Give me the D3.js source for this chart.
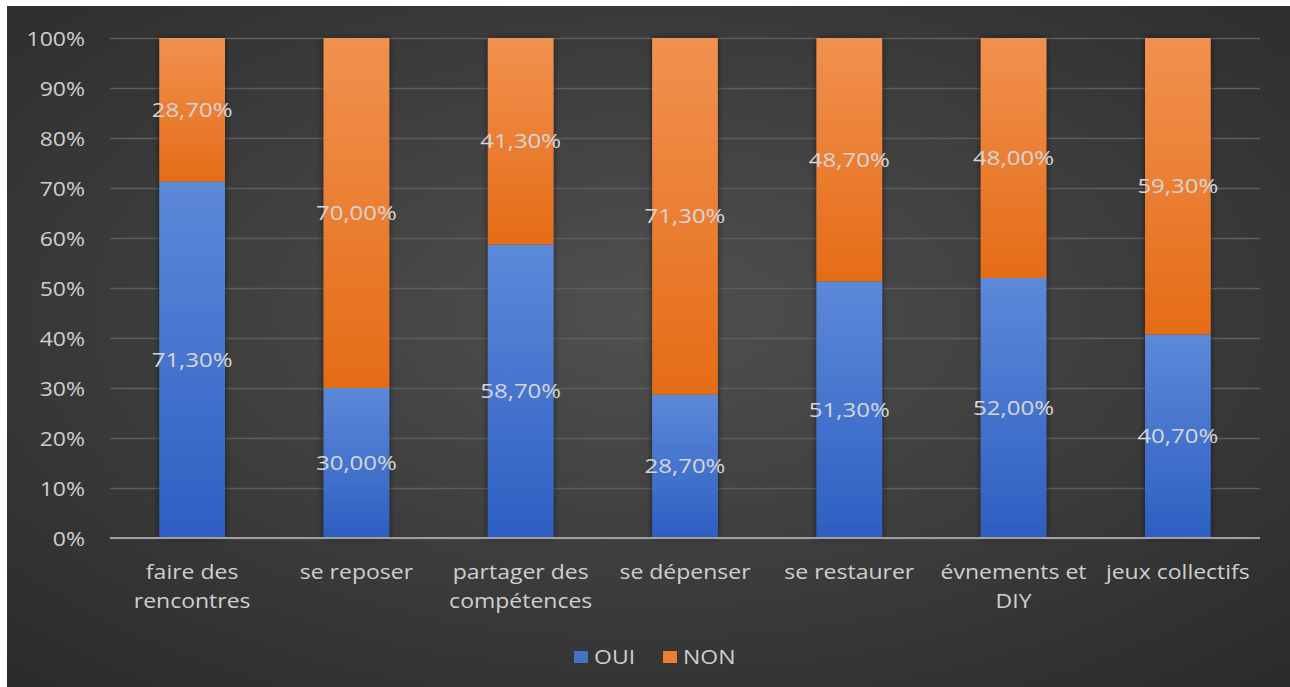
<!DOCTYPE html>
<html>
<head>
<meta charset="utf-8">
<script src="https://cdn.jsdelivr.net/npm/d3@7"></script>
<style>
  html, body { margin: 0; padding: 0; background: #fff; }
  svg { display: block; }
  svg text { font-family: "Open Sans", sans-serif; }
</style>
</head>
<body>
<svg id="chart" width="1290" height="687"></svg>
<script>
var categories = ['faire des rencontres', 'se reposer', 'partager des compétences', 'se dépenser', 'se restaurer', 'évnements et DIY', 'jeux collectifs'];
var oui = [71.3, 30.0, 58.7, 28.7, 51.3, 52.0, 40.7];
var non = [28.7, 70.0, 41.3, 71.3, 48.7, 48.0, 59.3];
var seriesNames = ['OUI', 'NON'];
var yTicks = [0, 10, 20, 30, 40, 50, 60, 70, 80, 90, 100];

function draw_chart(svg_id) {
    var width = 1290, height = 687;
    var plotLeft = 110, plotRight = 1260, plotTop = 38, plotBottom = 538;
    var stretch = 1.15;   // the original picture is a bit wider than tall

    var svg = d3.select('#' + svg_id);
    var defs = svg.append('defs');

    var bg = defs.append('radialGradient').attr('id', 'bg')
        .attr('cx', '50%').attr('cy', '45%').attr('r', '75%');
    bg.append('stop').attr('offset', '0%').attr('stop-color', '#505050');
    bg.append('stop').attr('offset', '100%').attr('stop-color', '#2a2a2a');

    var fills = {
        OUI: ['#5d89d9', '#2d5fc2'],
        NON: ['#f1914f', '#e56c17']
    };
    seriesNames.forEach(function (s) {
        var g = defs.append('linearGradient').attr('id', 'grad' + s)
            .attr('x1', 0).attr('y1', 0).attr('x2', 0).attr('y2', 1);
        g.append('stop').attr('offset', '0%').attr('stop-color', fills[s][0]);
        g.append('stop').attr('offset', '100%').attr('stop-color', fills[s][1]);
    });

    var shadow = defs.append('filter').attr('id', 'shadow')
        .attr('x', '-20%').attr('y', '-5%').attr('width', '140%').attr('height', '110%');
    shadow.append('feDropShadow').attr('dx', 0).attr('dy', 0).attr('stdDeviation', 3)
        .attr('flood-color', '#000').attr('flood-opacity', 0.55);

    // white margin of the screenshot then dark background
    svg.append('rect').attr('width', width).attr('height', height).attr('fill', '#fff');
    svg.append('rect').attr('x', 7).attr('y', 6).attr('width', width - 7).attr('height', height - 6)
        .attr('fill', 'url(#bg)');

    var x = d3.scaleBand().domain(categories).range([plotLeft, plotRight]).paddingInner(0.6).paddingOuter(0.3);
    var y = d3.scaleLinear().domain([0, 100]).range([plotBottom, plotTop]);
    var color = d3.scaleOrdinal().domain(seriesNames).range(['#4472c4', '#ed7d31']);

    // gridlines + y labels
    var yAxis = svg.append('g')
        .attr('transform', 'translate(' + plotLeft + ',0)')
        .call(d3.axisLeft(y).tickValues(yTicks).tickFormat(function (d) { return d + '%'; })
            .tickSize(-(plotRight - plotLeft)))
        .attr('font-family', null).attr('font-size', 20);
    yAxis.select('.domain').remove();
    yAxis.selectAll('line').attr('stroke', '#5e5e5e').attr('stroke-width', 1.5);
    yAxis.selectAll('text')
        .attr('fill', '#cfcfcf')
        .attr('x', 0).attr('dy', '0.35em')
        .attr('transform', 'translate(-25,0) scale(' + stretch + ',1)');

    // stacked bars
    var rows = categories.map(function (c, i) { return {cat: c, OUI: oui[i], NON: non[i]}; });
    var stacked = d3.stack().keys(seriesNames)(rows);

    var bars = svg.append('g').attr('filter', 'url(#shadow)');
    bars.selectAll('g').data(stacked).enter().append('g')
        .attr('fill', function (d) { return 'url(#grad' + d.key + ')'; })
        .selectAll('rect').data(function (d) { return d; }).enter().append('rect')
        .attr('x', function (d) { return x(d.data.cat); })
        .attr('width', x.bandwidth())
        .attr('y', function (d) { return y(d[1]); })
        .attr('height', function (d) { return y(d[0]) - y(d[1]); });

    // baseline
    svg.append('line')
        .attr('x1', plotLeft).attr('x2', plotRight).attr('y1', y(0)).attr('y2', y(0))
        .attr('stroke', '#a0a0a0').attr('stroke-width', 2);

    // data labels
    var fmt = function (v) { return v.toFixed(2).replace('.', ',') + '%'; };
    stacked.forEach(function (s) {
        svg.append('g').selectAll('text').data(s).enter().append('text')
            .attr('transform', function (d) {
                return 'translate(' + (x(d.data.cat) + x.bandwidth() / 2) + ',' + y((d[0] + d[1]) / 2) + ') scale(1.2,1)';
            })
            .attr('text-anchor', 'middle').attr('dy', '0.35em')
            .attr('font-size', 20).attr('fill', '#d6d6d6')
            .text(function (d) { return fmt(d.data[s.key]); });
    });

    // category axis
    var xAxis = svg.append('g')
        .attr('transform', 'translate(0,' + plotBottom + ')')
        .call(d3.axisBottom(x).tickSize(0).tickPadding(0))
        .attr('font-family', null).attr('font-size', 20);
    xAxis.select('.domain').remove();
    xAxis.selectAll('text')
        .attr('fill', '#cfcfcf').attr('y', 0).attr('dy', 0)
        .attr('transform', 'translate(0,41) scale(' + stretch + ',1)')
        .each(function () { wrap(d3.select(this), x.step() / stretch); });

    function wrap(text, maxW) {
        var words = text.text().split(' ');
        var lines = [], line = [];
        text.text('');
        var probe = text.append('tspan');
        words.forEach(function (w) {
            line.push(w);
            probe.text(line.join(' '));
            if (probe.node().getComputedTextLength() > maxW - 6 && line.length > 1) {
                line.pop();
                lines.push(line.join(' '));
                line = [w];
            }
        });
        lines.push(line.join(' '));
        probe.remove();
        lines.forEach(function (l, i) {
            text.append('tspan').attr('x', 0).attr('y', i * 29).text(l);
        });
    }

    // legend
    var legend = svg.append('g').attr('transform', 'translate(574,651)');
    var item = legend.selectAll('g').data(seriesNames).enter().append('g')
        .attr('transform', function (d, i) { return 'translate(' + (i * 89) + ',0)'; });
    item.append('rect').attr('width', 14).attr('height', 12)
        .attr('fill', function (d) { return color(d); });
    item.append('text')
        .attr('transform', 'translate(20,6) scale(' + stretch + ',1)')
        .attr('dy', '0.35em').attr('font-size', 20).attr('fill', '#cfcfcf')
        .text(function (d) { return d; });
}

draw_chart('chart');
</script>
</body>
</html>
